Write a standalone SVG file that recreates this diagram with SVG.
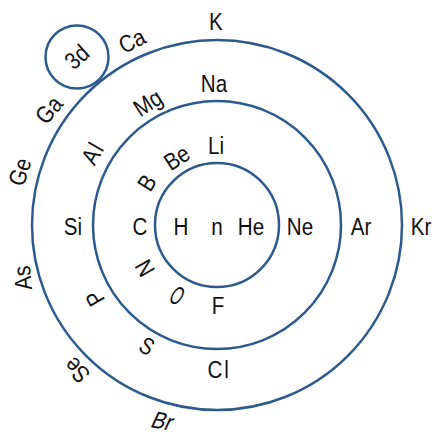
<svg xmlns="http://www.w3.org/2000/svg" width="434" height="436" viewBox="0 0 434 436">
<style>
.ring{fill:none;stroke:#2c5a8e;stroke-width:2.5}
text{font-family:"Liberation Sans",Arial,sans-serif;font-size:24px;fill:#111;text-anchor:middle;dominant-baseline:central}
</style>
<rect width="434" height="436" fill="#fff"/>
<g id="shells">
<circle id="shell1" class="ring" cx="217" cy="225" r="62"/>
<circle id="shell2" class="ring" cx="217" cy="225" r="124"/>
<circle id="shell3" class="ring" cx="217" cy="225" r="185"/>
<circle id="shell3d" class="ring" cx="77" cy="57" r="31.5"/>
</g>
<g id="labels">
<text transform="translate(216,22) scale(0.86,1)">K</text>
<text transform="translate(214,84) scale(0.86,1)">Na</text>
<text transform="translate(216,146) scale(0.86,1)">Li</text>
<text transform="translate(132,41) rotate(-27) scale(0.86,1)">Ca</text>
<text transform="translate(77,57) rotate(-42) scale(0.86,1)">3d</text>
<text transform="translate(148,103) rotate(-33) scale(0.86,1)">Mg</text>
<text transform="translate(177,158) rotate(-33) scale(0.86,1)">Be</text>
<text transform="translate(147,183) rotate(-58) scale(0.86,1)">B</text>
<text transform="translate(93,153) rotate(-60) scale(0.86,1)" letter-spacing="2">Al</text>
<text transform="translate(49,110) rotate(-50) scale(0.86,1)">Ga</text>
<text transform="translate(20,172) rotate(-72) scale(0.86,1)">Ge</text>
<text transform="translate(73,227) scale(0.86,1)">Si</text>
<text transform="translate(140,227) scale(0.86,1)">C</text>
<text transform="translate(181,227) scale(0.86,1)">H</text>
<text transform="translate(217,227) scale(0.86,1)">n</text>
<text transform="translate(251,227) scale(0.86,1)">He</text>
<text transform="translate(300,227) scale(0.86,1)">Ne</text>
<text transform="translate(361,227) scale(0.86,1)">Ar</text>
<text transform="translate(421,227) scale(0.86,1)">Kr</text>
<text transform="translate(23,278) rotate(-95) scale(0.86,1)">As</text>
<text transform="translate(95,298) rotate(-120) scale(0.86,1)">P</text>
<text transform="translate(145,268) rotate(-120) scale(0.86,1)">N</text>
<text transform="translate(177,296) rotate(32) scale(0.62,1.1)">O</text>
<text transform="translate(147,346) rotate(30) scale(0.8,1)">S</text>
<text transform="translate(218,306) scale(0.86,1)">F</text>
<text transform="translate(219,370) scale(0.86,1)" letter-spacing="2">Cl</text>
<text transform="translate(77,370) rotate(-135) scale(0.86,1)">Se</text>
<text transform="translate(163,421) rotate(10) skewX(-15) scale(0.86,1)">Br</text>
</g>
</svg>
